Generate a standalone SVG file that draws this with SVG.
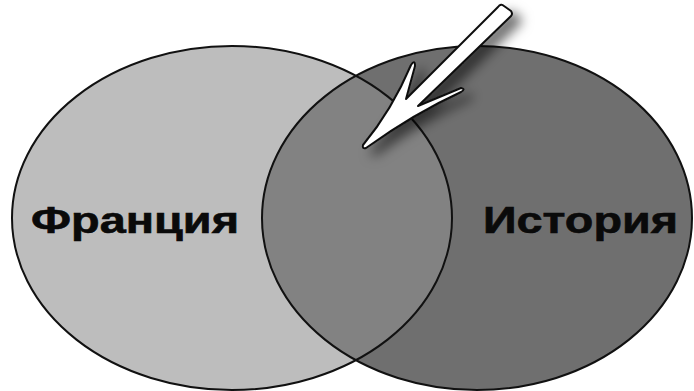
<svg xmlns="http://www.w3.org/2000/svg" width="694" height="391" viewBox="0 0 694 391">
  <style>
    .outline { fill: none; stroke: #111; stroke-width: 2; }
    .label { font-family: "Liberation Sans", Arial, sans-serif; font-weight: bold; font-size: 36px; fill: #0a0a0a; stroke: #0a0a0a; stroke-width: 0.6; }
  </style>
  <defs>
    <clipPath id="clipRight">
      <ellipse cx="477" cy="218" rx="215" ry="172"/>
    </clipPath>
    <filter id="shadow" x="-30%" y="-30%" width="170%" height="170%">
      <feDropShadow dx="9" dy="7" stdDeviation="6" flood-color="#000" flood-opacity="0.55"/>
    </filter>
  </defs>
  <rect x="0" y="0" width="694" height="391" fill="#ffffff"/>
  <g id="node-france">
    <ellipse cx="232" cy="218" rx="220" ry="172" fill="#bdbdbd"/>
  </g>
  <g id="node-history">
    <ellipse cx="477" cy="218" rx="215" ry="172" fill="#6f6f6f"/>
  </g>
  <g id="node-intersection">
    <ellipse cx="232" cy="218" rx="220" ry="172" fill="#828282" clip-path="url(#clipRight)"/>
  </g>
  <g id="outlines">
    <ellipse class="outline" cx="232" cy="218" rx="220" ry="172"/>
    <ellipse class="outline" cx="477" cy="218" rx="215" ry="172"/>
  </g>
  <g id="labels">
    <text class="label" x="31" y="233" textLength="208" lengthAdjust="spacingAndGlyphs">Франция</text>
    <text class="label" x="483" y="233" textLength="195" lengthAdjust="spacingAndGlyphs">История</text>
  </g>
  <g id="connectors">
    <path d="M 498,7 Q 501,3 504,6 L 511,11 Q 513,14 511,16 L 418,106 L 461,88 Q 466,89 461,92 Q 415,113 366,148 Q 362,149 363,145 Q 392,110 411,65 Q 415,59 415,66 L 406,99 Z" fill="#ffffff" stroke="#111" stroke-width="2" stroke-linejoin="round" filter="url(#shadow)"/>
  </g>
</svg>
